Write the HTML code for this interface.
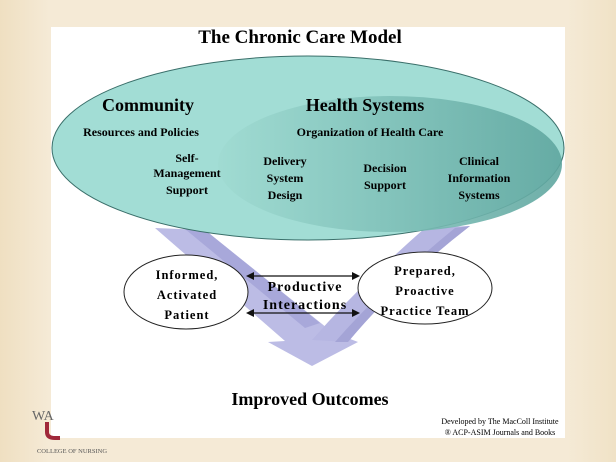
<!DOCTYPE html>
<html><head><meta charset="utf-8"><style>
html,body{margin:0;padding:0}
body{width:616px;height:462px;overflow:hidden;background:linear-gradient(90deg,#efdfc1 0%,#f5ead6 8%,#f5ead6 92%,#f0e2c6 100%);font-family:"Liberation Serif",serif;position:relative}
#panel{position:absolute;left:51px;top:27px;width:514px;height:411px;background:#fff}
</style></head><body>
<div id="panel"></div>
<svg width="616" height="462" style="position:absolute;left:0;top:0" font-family="Liberation Serif, serif" font-weight="bold">
<defs>
<linearGradient id="g1" x1="0" x2="1"><stop offset="0" stop-color="#a0dbd2"/><stop offset="1" stop-color="#5fa69f"/></linearGradient>
</defs>
<text x="300" y="43" font-size="19" text-anchor="middle">The Chronic Care Model</text>
<path d="M155,228 L205,230 L332,332 L358,342 L312,366 L268,342 L285,341 Z" fill="#bcbce5"/>
<path d="M185,229 L205,230 L320,323 L305,328 Z" fill="#a8a8da"/>
<path d="M470,226 L425,228 Q360,285 312,340 L348,342 Q400,280 470,226 Z" fill="#b6b6e2"/>
<path d="M470,226 L455,228 Q385,285 335,342 L348,342 Q400,280 470,226 Z" fill="#a4a4d6"/>
<ellipse cx="308" cy="148" rx="256" ry="92" fill="#a2ddd5" stroke="#3a6f6a" stroke-width="1"/>
<ellipse cx="390" cy="164" rx="172" ry="68" fill="url(#g1)" opacity="0.9"/>
<text x="148" y="111" font-size="18" text-anchor="middle">Community</text>
<text x="365" y="111" font-size="18" text-anchor="middle">Health Systems</text>
<text x="141" y="136" font-size="12" text-anchor="middle">Resources and Policies</text>
<text x="370" y="136" font-size="12" text-anchor="middle">Organization of Health Care</text>
<g font-size="12" text-anchor="middle">
<text x="187" y="162">Self-</text><text x="187" y="177">Management</text><text x="187" y="194">Support</text>
<text x="285" y="165">Delivery</text><text x="285" y="182">System</text><text x="285" y="199">Design</text>
<text x="385" y="172">Decision</text><text x="385" y="189">Support</text>
<text x="479" y="165">Clinical</text><text x="479" y="182">Information</text><text x="479" y="199">Systems</text>
</g>
<ellipse cx="186" cy="292" rx="62" ry="37" fill="#fff" stroke="#222" stroke-width="1"/>
<ellipse cx="425" cy="288" rx="67" ry="36" fill="#fff" stroke="#222" stroke-width="1"/>
<g font-size="12.5" text-anchor="middle" letter-spacing="1">
<text x="187" y="279">Informed,</text><text x="187" y="299">Activated</text><text x="187" y="319">Patient</text>
<text x="425" y="275">Prepared,</text><text x="425" y="295">Proactive</text><text x="425" y="315">Practice Team</text>
<text x="305" y="291" font-size="14">Productive</text><text x="305" y="309" font-size="14">Interactions</text>
</g>
<g stroke="#111" stroke-width="1.3">
<line x1="250" y1="276" x2="356" y2="276"/><line x1="250" y1="313" x2="356" y2="313"/>
</g>
<g fill="#111">
<path d="M246,276 L254,272 L254,280Z"/><path d="M360,276 L352,272 L352,280Z"/>
<path d="M246,313 L254,309 L254,317Z"/><path d="M360,313 L352,309 L352,317Z"/>
</g>
<text x="310" y="405" font-size="18" text-anchor="middle">Improved Outcomes</text>
<g font-size="8" font-weight="normal" text-anchor="middle"><text x="500" y="424">Developed by The MacColl Institute</text><text x="500" y="435">® ACP-ASIM Journals and Books</text></g>
<text x="32" y="420" font-size="14" font-weight="normal" fill="#666">WA</text>
<path d="M47,422 L47,432 Q47,438 55,438 L60,438" stroke="#a0283a" stroke-width="4" fill="none"/>
<text x="72" y="453" font-size="6.5" font-weight="normal" fill="#555" text-anchor="middle">COLLEGE OF NURSING</text>
</svg>
</body></html>
